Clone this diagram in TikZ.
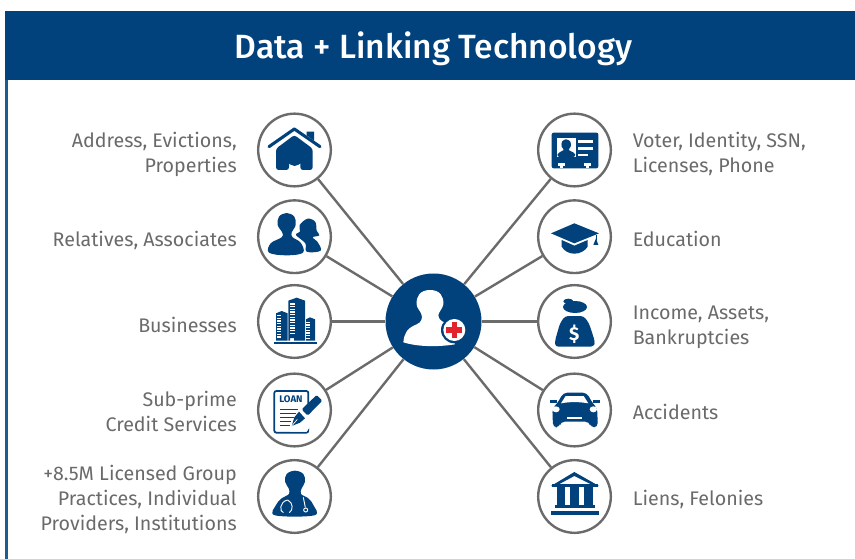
\documentclass[tikz,border=0pt]{standalone}
\usepackage{fontspec}
\setmainfont{Fira Sans}
\newfontfamily\titlef{Fira Sans Medium}
\definecolor{navy}{HTML}{01417C}
\definecolor{edgeblue}{HTML}{1F5A90}
\definecolor{ringgrey}{HTML}{6B6B6B}
\definecolor{txtgrey}{HTML}{6A6A6A}
\definecolor{crossred}{HTML}{E2232E}
\tikzset{
 ring/.style={circle,draw=ringgrey,line width=1.8pt,minimum size=54.5pt,inner sep=0pt,fill=white},
 hubdisc/.style={circle,fill=navy,minimum size=72pt,inner sep=0pt},
 link/.style={draw=ringgrey,line width=1.8pt},
 lbl/.style={text=txtgrey,font=\fontsize{14.75}{18.75}\selectfont,inner sep=0pt},
 lleft/.style={lbl,anchor=east,align=right},
 lright/.style={lbl,anchor=west,align=left},
 zm/.style={x=.25pt,y=-.25pt},
 ic/.style={fill=navy,draw=none},
 wh/.style={fill=white,draw=none},
}
\begin{document}
\begin{tikzpicture}[x=.75pt,y=-.75pt]
\useasboundingbox (0,0) rectangle (855,559);
\fill[navy] (5,11) rectangle (855,80);
\fill[edgeblue] (5,80) rectangle (7.5,559);
\node[text=white,inner sep=0pt,font=\titlef\fontsize{25.2}{28}\selectfont] (title) at (433.5,49) {Data + Linking Technology};

\node[hubdisc] (hub) at (433.5,321.5) {};
\foreach \n/\y in {a/150,b/236.7,c/321.5,d/410,e/496.5}{
  \node[ring] (l\n) at (294.5,\y) {};
  \node[ring] (r\n) at (574.5,\y) {};
  \draw[link] (hub) -- (l\n);
  \draw[link] (hub) -- (r\n);
}

\node[lleft] (ta) at (237,154) {Address, Evictions,\\Properties};
\node[lleft] (tb) at (237,240) {Relatives, Associates};
\node[lleft] (tc) at (237,325) {Businesses};
\node[lleft] (td) at (237,411.5) {Sub-prime\\Credit Services};
\node[lleft] (te) at (237,499) {+8.5M Licensed Group\\Practices, Individual\\Providers, Institutions};
\node[lright] (ua) at (632.5,153.5) {Voter, Identity, SSN,\\Licenses, Phone};
\node[lright] (ub) at (632.5,239) {Education};
\node[lright] (uc) at (632.5,327) {Income, Assets,\\Bankruptcies};
\node[lright] (ud) at (632.5,412) {Accidents};
\node[lright] (ue) at (632.5,499) {Liens, Felonies};

% left icons upper
\begin{scope}[shift={(240,100)},zm]
 % house
 \fill[navy] (200,95)--(222,95)--(222,122)--(200,106)--cycle;
 \draw[navy,line width=2.3pt,line cap=round,line join=round] (87,140)--(163,87)--(240,140);
 \fill[navy,rounded corners=2pt] (163,105)--(218,146)--(218,210)--(181,210)--(181,181)
   arc (0:180:17) --(147,210)--(108,210)--(108,146)--cycle;
 % people
 \fill[ic] plot[smooth cycle,tension=.6] coordinates {(203,356)(226,366)(230,392)(238,406)(218,412)(232,425)(242,452)(200,455)(196,430)(168,405)(180,395)(179,375)};
 \draw[white,line width=1.1pt] (160,395)--(163,408)--(185,425)--(192,445)--(194,462);
 \fill[ic] plot[smooth cycle,tension=.6] coordinates {(140,339)(163,350)(167,375)(155,398)(158,412)(182,428)(189,458)(140,466)(87,458)(92,430)(125,412)(127,398)(113,375)(117,350)};
 % buildings
 \fill[ic] (102,725) rectangle (230,731);
 \fill[ic] (145,602)--(170,593)--(195,602)--(195,722)--(162,722)--(162,714)--(150,714)--(150,722)--(145,722)--cycle;
 \fill[ic] (108,640)--(125,633)--(143,640)--(143,722)--(108,722)--cycle;
 \fill[ic] (198,658)--(210,652)--(225,658)--(225,722)--(198,722)--cycle;
 \foreach \yy in {610,618,...,698}{\fill[white] (149,\yy) rectangle (165,\yy+4);}
 \foreach \yy in {645,653,...,715}{\fill[white] (111,\yy) rectangle (123,\yy+4);}
 \foreach \yy in {665,673,...,715}{\fill[white] (199,\yy) rectangle (209,\yy+4);}
\end{scope}

% left icons lower
\begin{scope}[shift={(240,360)},zm]
 % loan
 \draw[navy,line width=1.3pt,rounded corners=1.5pt] (103,93) rectangle (205,218);
 \node[text=navy,inner sep=0pt,font=\fontsize{7.2}{8}\selectfont\bfseries] (loan) at (153,118) {LOAN};
 \foreach \yy/\xx in {146/175,158/168,170/162,182/152,194/150}{\fill[navy] (120,\yy) rectangle (\xx,\yy+5);}
 \fill[white] (168,185)--(232,115)--(260,125)--(200,215)--(150,215)--cycle;
 \fill[navy,rounded corners=1pt] (185,148)--(230,105)--(247,122)--(203,167)--cycle;
 \fill[navy] (177,155)--(195,175)--(180,188)--(155,198)--(163,172)--cycle;
 \draw[white,line width=.5pt] (155,198)--(172,178);
 % doctor
 \fill[ic] plot[smooth cycle,tension=.6] coordinates {(165,332)(190,342)(195,365)(185,385)(183,402)(205,415)(220,435)(223,466)(105,466)(108,435)(125,415)(147,402)(146,385)(135,365)(140,342)};
 \draw[white,line width=.7pt] (143,420) .. controls (118,425) and (118,455) .. (130,458);
 \draw[white,line width=.7pt] (143,420) .. controls (160,428) and (160,450) .. (148,458);
 \draw[white,line width=.7pt] (190,412)--(196,442);
 \draw[white,line width=.7pt] (197,450) circle (6);
\end{scope}

% hub icon
\begin{scope}[shift={(375,265)},zm]
 \fill[white] (165,75) .. controls (195,75) and (207,95) .. (205,118)
   .. controls (203,130) and (192,140) .. (190,150)
   .. controls (189,165) and (205,172) .. (225,180)
   -- (240,238) .. controls (190,246) and (130,246) .. (85,232)
   .. controls (88,205) and (95,190) .. (125,178)
   .. controls (140,172) and (142,160) .. (140,150)
   .. controls (137,138) and (125,130) .. (125,118)
   .. controls (123,95) and (135,75) .. (165,75) -- cycle;
 \fill[navy] (238,195) circle (40);
 \fill[white] (238,195) circle (33);
 \fill[crossred] (230,171) rectangle (246,219);
 \fill[crossred] (214,187) rectangle (262,203);
\end{scope}

% right icons upper
\begin{scope}[shift={(525,100)},zm]
 % id card
 \fill[navy,rounded corners=1.5pt] (80,98) rectangle (220,205);
 \fill[white] (95,115) rectangle (153,170);
 \fill[ic] plot[smooth cycle,tension=.6] coordinates {(123,118)(136,125)(137,140)(131,150)(146,158)(148,170)(100,170)(102,158)(116,150)(110,140)(111,125)};
 \fill[white] (160,120) rectangle (205,128);
 \fill[white] (160,141) rectangle (205,149);
 \fill[white] (160,161) rectangle (188,168);
 \fill[white] (100,190) rectangle (120,197);
 \fill[white] (105,190) rectangle (115,205);
 \fill[white] (178,190) rectangle (198,197);
 \fill[white] (183,190) rectangle (193,205);
 % cap
 \fill[ic] (78,400)--(148,370)--(222,400)--(148,430)--cycle;
 \fill[ic] (110,420)--(148,437)--(188,420)--(188,440) .. controls (170,468) and (126,468) .. (110,440)--cycle;
 \draw[navy,line width=.5pt] (213,405)--(213,420);
 \fill[ic] (213,415)--(220,435)--(205,435)--cycle;
 % bag
 \fill[ic] (150,621) ellipse (36 and 18);
 \fill[ic] (130,604) ellipse (15 and 8);
 \fill[ic,rounded corners=2.5pt] (120,648)--(176,648)--(192,670)--(210,725)--(207,740)--(90,740)--(90,722)--(105,670)--cycle;
 \node[text=white,inner sep=0pt,font=\fontsize{14}{16}\selectfont\bfseries] (dollar) at (148,703) {\$};
\end{scope}

% right icons lower
\begin{scope}[shift={(525,370)},zm]
 % car
 \fill[ic] (76,90) rectangle (96,100);
 \fill[ic] (204,90) rectangle (226,100);
 \fill[ic,rounded corners=3pt] (115,68)--(185,68)--(203,100)--(217,115)--(218,172)--(197,172)--(193,155)--(107,155)--(103,172)--(84,172)--(82,115)--(97,100)--cycle;
 \fill[white] (108,100)--(122,78)--(176,78)--(190,100) .. controls (160,95) and (135,95) .. (108,100)--cycle;
 \fill[white] (93,118) ellipse (11 and 9);
 \fill[white] (205,118) ellipse (11 and 9);
 \fill[white] (125,140) rectangle (172,146);
 % bank
 \fill[ic] (78,348)--(148,306)--(222,348)--(208,348)--(148,318)--(92,348)--cycle;
 \fill[ic] (80,342) rectangle (220,352);
 \fill[ic] (97,352) rectangle (120,405);
 \fill[ic] (136,352) rectangle (162,405);
 \fill[ic] (178,352) rectangle (204,405);
 \fill[ic] (90,405) rectangle (210,415);
 \fill[ic] (79,424) rectangle (221,435);
\end{scope}
\end{tikzpicture}
\end{document}
